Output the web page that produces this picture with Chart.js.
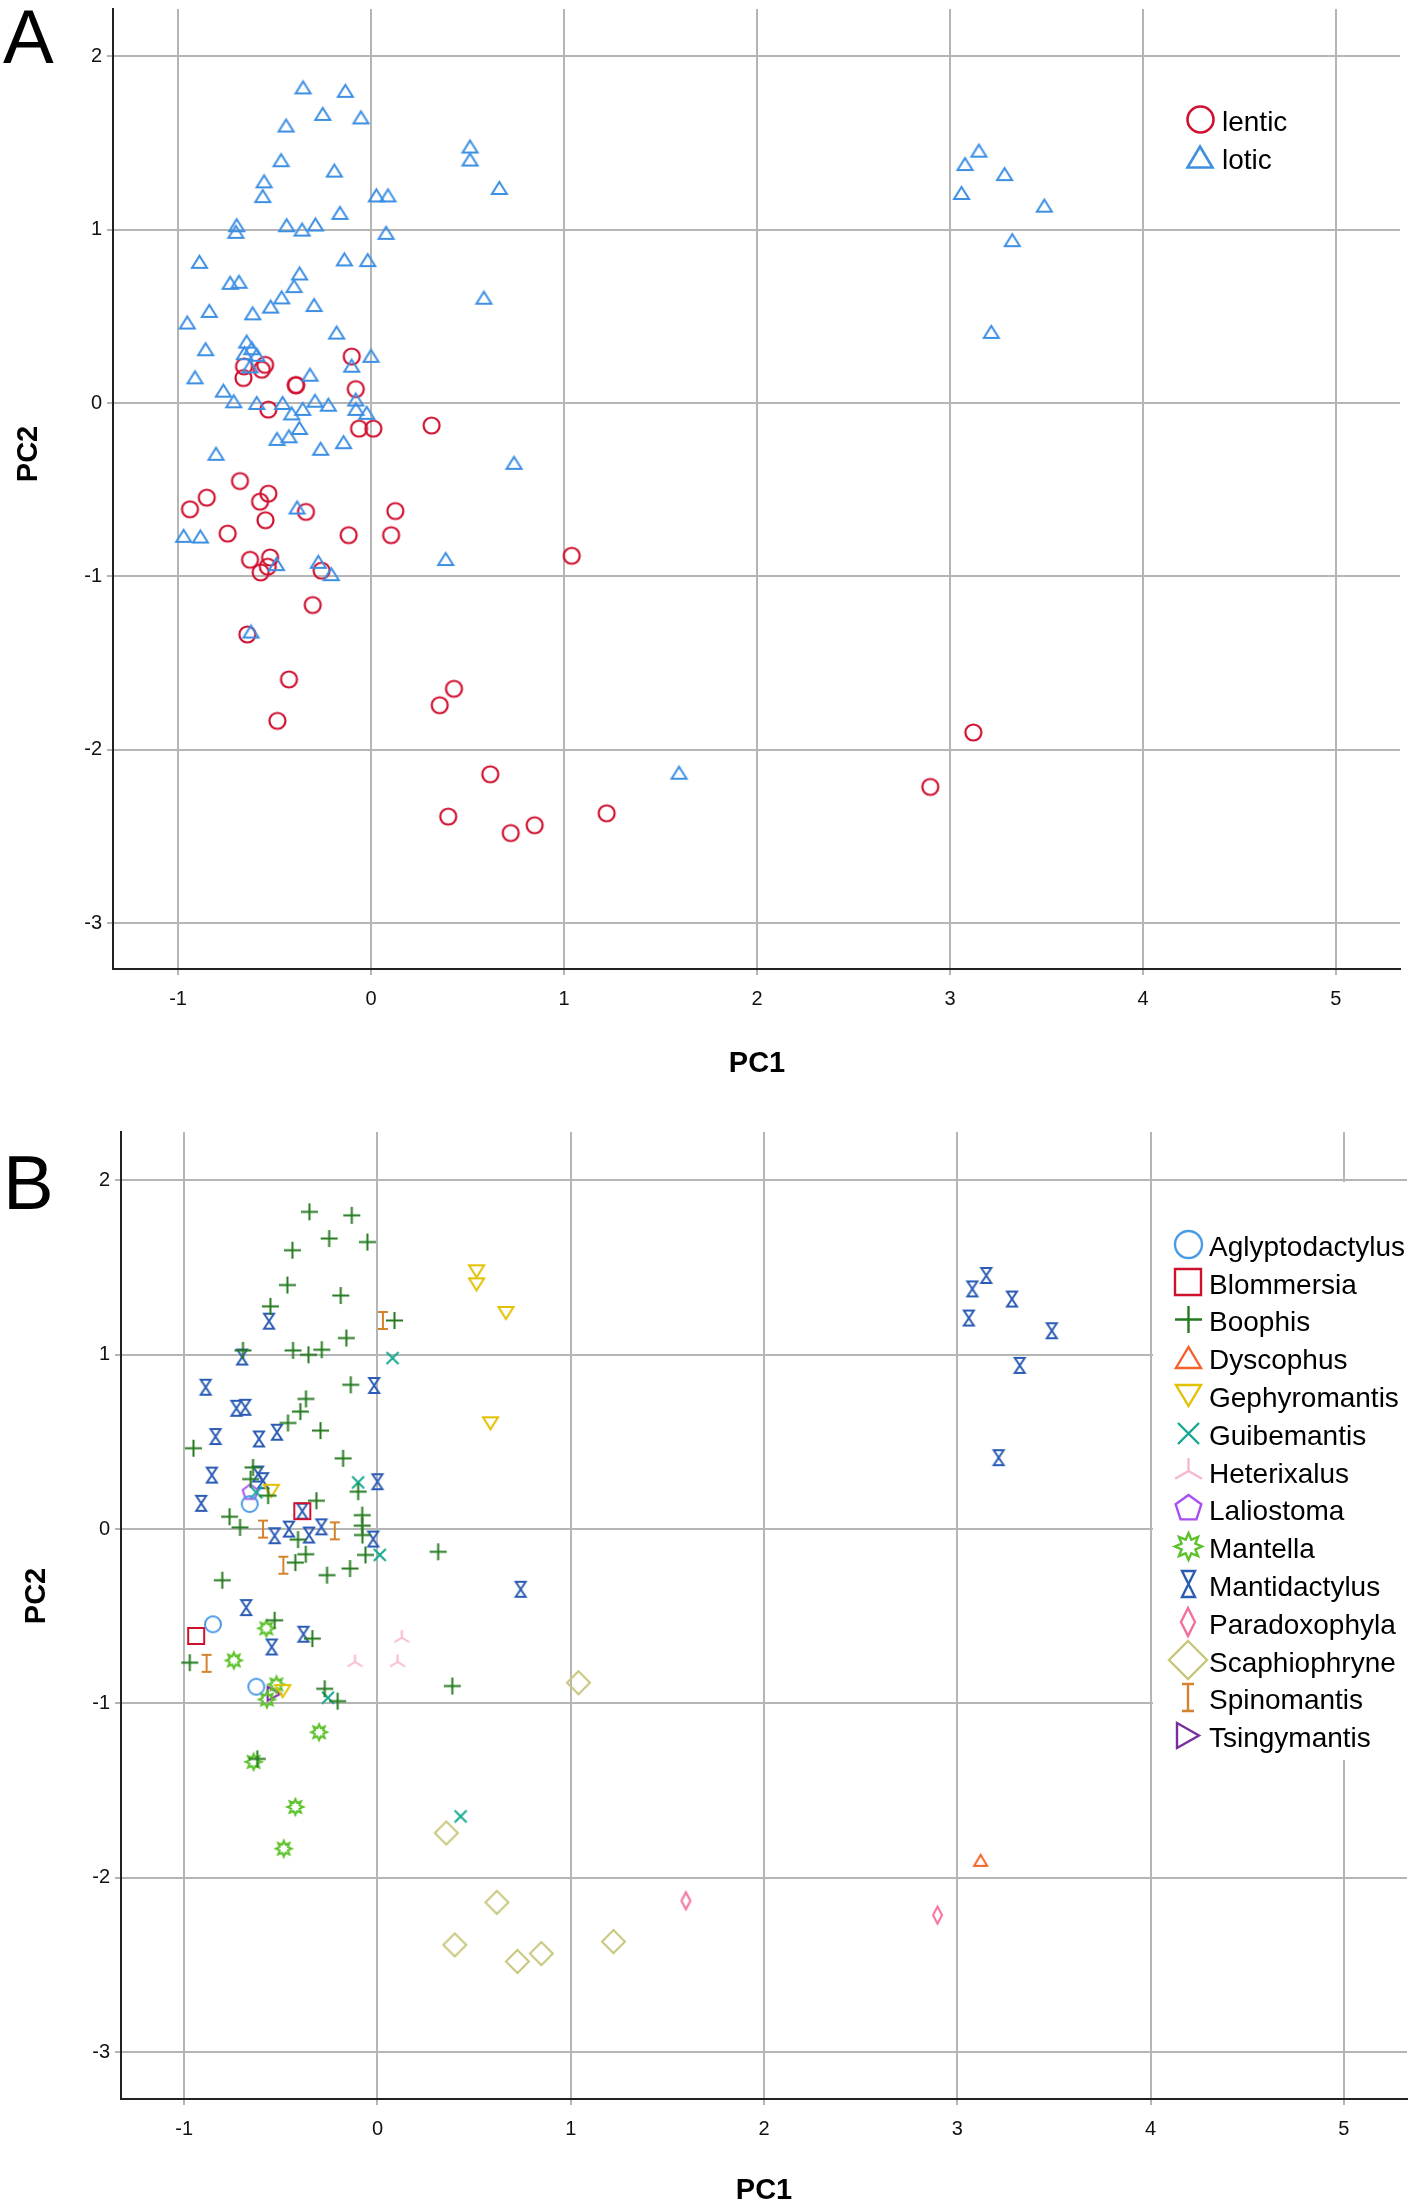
<!DOCTYPE html>
<html lang="en">
<head>
    <meta charset="UTF-8">
    <title>PCA scatter - habitat and genus</title>
    <style>
        body {
            margin: 0;
            background-color: #fff;
        }
        canvas {
            display: block;
        }
    </style>
</head>
<body>
    <canvas id="chartA" width="1416" height="1100"></canvas>
    <canvas id="chartB" width="1416" height="1109"></canvas>

    <script src="https://cdn.jsdelivr.net/npm/chart.js"></script>
    <script>
        const pc1Ticks = [-1, 0, 1, 2, 3, 4, 5];
        const pc2Ticks = [-3, -2, -1, 0, 1, 2];
        const habitats = ['lentic', 'lotic'];
        const genera = ['Aglyptodactylus', 'Blommersia', 'Boophis', 'Dyscophus', 'Gephyromantis',
            'Guibemantis', 'Heterixalus', 'Laliostoma', 'Mantella', 'Mantidactylus',
            'Paradoxophyla', 'Scaphiophryne', 'Spinomantis', 'Tsingymantis'];

        // each point: [PC1, PC2, habitat index (0 = lentic, 1 = lotic)]
        const aglyptodactylus = [[-0.661, 0.144, 0], [-0.851, -0.546, 0], [-0.627, -0.904, 0]];
        const blommersia = [[-0.389, 0.103, 0], [-0.938, -0.613, 0]];
        const boophis = [
            [-0.352, 1.820, 1], [-0.133, 1.800, 1], [-0.250, 1.667, 1], [-0.052, 1.647, 1], [-0.440, 1.600, 1],
            [-0.466, 1.400, 1], [-0.190, 1.340, 1], [-0.554, 1.278, 1], [0.088, 1.197, 1], [-0.161, 1.096, 1],
            [-0.696, 1.025, 1], [-0.437, 1.025, 1], [-0.357, 1.000, 1], [-0.288, 1.029, 1], [-0.138, 0.828, 1],
            [-0.370, 0.747, 1], [-0.399, 0.674, 1], [-0.463, 0.609, 1], [-0.295, 0.565, 1], [-0.952, 0.464, 1],
            [-0.178, 0.406, 1], [-0.644, 0.354, 1], [-0.656, 0.287, 1], [-0.100, 0.215, 1], [-0.316, 0.163, 1],
            [-0.765, 0.071, 1], [-0.711, 0.010, 1], [-0.411, -0.060, 1], [-0.079, 0.020, 1], [-0.078, -0.034, 1],
            [-0.371, -0.144, 1], [-0.425, -0.192, 1], [-0.261, -0.264, 1], [-0.142, -0.226, 1], [-0.803, -0.293, 1],
            [-0.971, -0.766, 1], [-0.273, -0.916, 1], [-0.206, -0.987, 1], [0.387, -0.900, 1], [-0.622, -1.318, 1],
            [-0.566, 0.192, 0], [-0.079, 0.080, 0], [-0.062, -0.148, 0], [0.314, -0.130, 0], [-0.532, -0.523, 0],
            [-0.337, -0.628, 0]
        ];
        const dyscophus = [[3.121, -1.900, 0]];
        const gephyromantis = [[0.513, 1.479, 1], [0.513, 1.404, 1], [0.665, 1.240, 1], [0.585, 0.607, 1],
            [-0.490, -0.929, 1], [-0.549, 0.220, 0]];
        const guibemantis = [[0.078, 0.981, 1], [-0.627, 0.211, 1], [-0.100, 0.268, 0], [0.012, -0.148, 0],
            [-0.256, -0.967, 0], [0.430, -1.648, 0]];
        const heterixalus = [[0.126, -0.623, 0], [-0.116, -0.762, 0], [0.104, -0.762, 0]];
        const laliostoma = [[-0.658, 0.211, 0]];
        const mantella = [[-0.575, -0.569, 0], [-0.743, -0.753, 0], [-0.523, -0.891, 0], [-0.572, -0.977, 0],
            [-0.302, -1.165, 0], [-0.641, -1.335, 0], [-0.425, -1.594, 0], [-0.485, -1.833, 0]];
        const mantidactylus = [
            [-0.561, 1.193, 1], [-0.700, 0.987, 1], [-0.889, 0.814, 1], [-0.017, 0.824, 1], [-0.730, 0.693, 1],
            [-0.684, 0.699, 1], [-0.520, 0.556, 1], [-0.838, 0.531, 1], [-0.613, 0.517, 1], [-0.618, 0.316, 1],
            [-0.857, 0.310, 1], [-0.592, 0.278, 1], [0.000, 0.272, 1], [-0.912, 0.148, 1], [-0.458, 0.000, 1],
            [-0.354, -0.034, 1], [-0.290, 0.013, 1], [-0.022, -0.057, 1], [0.741, -0.345, 1], [-0.383, -0.603, 1],
            [3.150, 1.455, 1], [3.078, 1.378, 1], [3.283, 1.320, 1], [3.060, 1.211, 1], [3.489, 1.138, 1],
            [3.323, 0.939, 1], [3.214, 0.410, 1],
            [-0.389, 0.103, 0], [-0.532, -0.038, 0], [-0.679, -0.450, 0], [-0.547, -0.676, 0]
        ];
        const paradoxophyla = [[1.596, -2.132, 1], [2.898, -2.214, 0]];
        const scaphiophryne = [[1.040, -0.881, 0], [0.356, -1.743, 0], [1.221, -2.366, 0], [0.618, -2.141, 0],
            [0.400, -2.385, 0], [0.724, -2.480, 0], [0.848, -2.435, 0]];
        const spinomantis = [[0.028, 1.197, 1], [-0.592, 0.000, 1], [-0.221, -0.010, 1], [-0.487, -0.207, 1],
            [-0.884, -0.770, 1]];
        const tsingymantis = [[-0.535, -0.944, 0]];

        const generaPoints = [aglyptodactylus, blommersia, boophis, dyscophus, gephyromantis, guibemantis,
            heterixalus, laliostoma, mantella, mantidactylus, paradoxophyla, scaphiophryne, spinomantis, tsingymantis];

        // draws one marker symbol into a small canvas, used as pointStyle
        function marker(shape, color, w, h, lw) {
            const c = document.createElement('canvas');
            c.width = Math.ceil(w + lw * 4 + 4);
            c.height = Math.ceil(h + lw * 4 + 4);
            const g = c.getContext('2d');
            g.translate(c.width / 2, c.height / 2);
            g.strokeStyle = color;
            g.lineWidth = lw;
            g.lineJoin = 'miter';
            const a = w / 2, b = h / 2;
            g.beginPath();
            if (shape === 'circle') {
                g.arc(0, 0, a, 0, Math.PI * 2);
            } else if (shape === 'square') {
                g.rect(-a, -b, w, h);
            } else if (shape === 'plus') {
                g.moveTo(-a, 0); g.lineTo(a, 0); g.moveTo(0, -b); g.lineTo(0, b);
            } else if (shape === 'cross') {
                g.moveTo(-a, -b); g.lineTo(a, b); g.moveTo(a, -b); g.lineTo(-a, b);
            } else if (shape === 'triUp') {
                g.moveTo(0, -b); g.lineTo(a, b); g.lineTo(-a, b); g.closePath();
            } else if (shape === 'triDown') {
                g.moveTo(0, b); g.lineTo(a, -b); g.lineTo(-a, -b); g.closePath();
            } else if (shape === 'triRight') {
                g.moveTo(a, 0); g.lineTo(-a, -b); g.lineTo(-a, b); g.closePath();
            } else if (shape === 'diamond') {
                g.moveTo(0, -b); g.lineTo(a, 0); g.lineTo(0, b); g.lineTo(-a, 0); g.closePath();
            } else if (shape === 'hourglass') {
                g.moveTo(-a, -b); g.lineTo(a, -b); g.lineTo(-a, b); g.lineTo(a, b); g.closePath();
            } else if (shape === 'ibeam') {
                g.moveTo(-a, -b); g.lineTo(a, -b); g.moveTo(0, -b); g.lineTo(0, b);
                g.moveTo(-a, b); g.lineTo(a, b);
            } else if (shape === 'tristar') {
                g.moveTo(0, 0); g.lineTo(0, -b);
                g.moveTo(0, 0); g.lineTo(-a, b * 0.6);
                g.moveTo(0, 0); g.lineTo(a, b * 0.6);
            } else if (shape === 'pentagon') {
                for (let i = 0; i < 5; i++) {
                    const t = -Math.PI / 2 + i * 2 * Math.PI / 5;
                    g.lineTo(a * Math.cos(t), a * Math.sin(t));
                }
                g.closePath();
            } else if (shape === 'star') {
                for (let i = 0; i < 16; i++) {
                    const t = -Math.PI / 2 + i * Math.PI / 8;
                    const r = i % 2 ? a * 0.55 : a;
                    g.lineTo(r * Math.cos(t), r * Math.sin(t));
                }
                g.closePath();
            }
            g.stroke();
            return c;
        }

        const habitatColors = ['#d0102f', '#3d8fe3'];
        const habitatMarks = [
            marker('circle', habitatColors[0], 16, 16, 2.2),
            marker('triUp', habitatColors[1], 15, 12, 2)
        ];
        const habitatLegendMarks = [
            marker('circle', habitatColors[0], 26, 26, 2.6),
            marker('triUp', habitatColors[1], 25, 21, 2.6)
        ];

        // shape, colour, plot size (w, h), legend size (w, h)
        const genusStyles = [
            ['circle', '#4a9be6', 16, 16, 27, 27],
            ['square', '#d0102f', 16, 16, 26, 26],
            ['plus', '#257a1f', 17, 17, 27, 27],
            ['triUp', '#f4622b', 13, 11, 25, 21],
            ['triDown', '#e3c000', 15, 12, 25, 21],
            ['cross', '#14a890', 12, 12, 21, 21],
            ['tristar', '#f7b6d2', 15, 15, 27, 26],
            ['pentagon', '#a84ff0', 16, 16, 27, 27],
            ['star', '#5cc12a', 16, 16, 27, 27],
            ['hourglass', '#2b5cb5', 10, 15, 13, 26],
            ['diamond', '#f2709f', 9, 17, 14, 28],
            ['diamond', '#c8c67c', 23, 23, 38, 38],
            ['ibeam', '#d4822e', 10, 17, 12, 27],
            ['triRight', '#7a2e9c', 13, 14, 22, 25]
        ];

        const fontFamily = '"Liberation Sans", Arial, sans-serif';

        function scaleConfig(range, yWidth, xHeight) {
            const font = { family: fontFamily, size: 20 };
            const grid = { color: '#b5b5b5', lineWidth: 2, tickLength: 6 };
            const border = { color: '#222', width: 2 };
            return {
                x: {
                    type: 'linear',
                    min: range.x[0],
                    max: range.x[1],
                    grid: grid,
                    border: border,
                    ticks: { font: font, color: '#111', padding: 12, maxRotation: 0 },
                    afterBuildTicks: s => { s.ticks = pc1Ticks.map(v => ({ value: v })); },
                    afterFit: s => { s.height = xHeight; s.paddingLeft = 0; s.paddingRight = 0; }
                },
                y: {
                    type: 'linear',
                    min: range.y[0],
                    max: range.y[1],
                    grid: grid,
                    border: border,
                    ticks: { font: font, color: '#111', padding: 5 },
                    afterBuildTicks: s => { s.ticks = pc2Ticks.map(v => ({ value: v })); },
                    afterFit: s => { s.width = yWidth; s.paddingTop = 0; s.paddingBottom = 0; }
                }
            };
        }

        // panel letter, axis titles, legend inside the plot
        function decor(cfg) {
            return {
                id: 'decor',
                beforeDatasetsDraw(chart) {
                    if (!cfg.blank) return;
                    const g = chart.ctx;
                    g.save();
                    g.fillStyle = '#fff';
                    g.fillRect(cfg.blank[0], cfg.blank[1], cfg.blank[2], cfg.blank[3]);
                    g.restore();
                },
                afterDraw(chart) {
                    const g = chart.ctx;
                    g.save();
                    g.fillStyle = '#000';
                    g.textBaseline = 'alphabetic';
                    g.font = '76px ' + fontFamily;
                    g.fillText(cfg.letter, cfg.letterPos[0], cfg.letterPos[1]);

                    g.font = 'bold 29px ' + fontFamily;
                    g.textAlign = 'center';
                    g.textBaseline = 'middle';
                    g.fillText('PC1', cfg.xTitle[0], cfg.xTitle[1]);
                    g.save();
                    g.translate(cfg.yTitle[0], cfg.yTitle[1]);
                    g.rotate(-Math.PI / 2);
                    g.fillText('PC2', 0, 0);
                    g.restore();

                    g.textAlign = 'left';
                    g.font = '28px ' + fontFamily;
                    cfg.legend.labels.forEach((label, i) => {
                        const y = cfg.legend.y + i * cfg.legend.gap;
                        const icon = cfg.legend.icons[i];
                        g.drawImage(icon, Math.round(cfg.legend.x - icon.width / 2), Math.round(y - icon.height / 2));
                        g.fillText(label, cfg.legend.textX, y + 4);
                    });
                    g.restore();
                }
            };
        }

        const allPoints = generaPoints.flat();

        // Panel A: habitat
        new Chart(document.getElementById('chartA').getContext('2d'), {
            type: 'scatter',
            data: {
                datasets: habitats.map((h, hi) => ({
                    label: h,
                    data: allPoints.filter(p => p[2] === hi).map(p => ({ x: p[0], y: p[1] })),
                    pointStyle: habitatMarks[hi],
                    pointRadius: 8,
                    order: hi === 1 ? 0 : 1
                }))
            },
            options: {
                responsive: false,
                animation: false,
                events: [],
                layout: { padding: { top: 4, right: 16, left: 0, bottom: 0 } },
                plugins: { legend: { display: false }, tooltip: { enabled: false } },
                scales: scaleConfig({ x: [-1.337, 5.332], y: [-3.264, 2.272] }, 113, 131)
            },
            plugins: [decor({
                letter: 'A',
                letterPos: [3, 63],
                xTitle: [757, 1064],
                yTitle: [29, 454],
                legend: { x: 1200, textX: 1222, y: 119, gap: 38, labels: habitats, icons: habitatLegendMarks }
            })]
        });

        // Panel B: genus
        new Chart(document.getElementById('chartB').getContext('2d'), {
            type: 'scatter',
            data: {
                datasets: genera.map((name, gi) => {
                    const st = genusStyles[gi];
                    return {
                        label: name,
                        data: generaPoints[gi].map(p => ({ x: p[0], y: p[1] })),
                        pointStyle: marker(st[0], st[1], st[2], st[3], 2),
                        pointRadius: 8
                    };
                })
            },
            options: {
                responsive: false,
                animation: false,
                events: [],
                layout: { padding: { top: 32, right: 8, left: 0, bottom: 0 } },
                plugins: { legend: { display: false }, tooltip: { enabled: false } },
                scales: scaleConfig({ x: [-1.327, 5.327], y: [-3.269, 2.278] }, 121, 110)
            },
            plugins: [decor({
                letter: 'B',
                letterPos: [3, 109],
                xTitle: [764, 1091],
                yTitle: [37, 496],
                blank: [1153, 82, 263, 578],
                legend: {
                    x: 1188, textX: 1209, y: 144, gap: 37.8, labels: genera,
                    icons: genusStyles.map(st => marker(st[0], st[1], st[4], st[5], 2.4))
                }
            })]
        });
    </script>
</body>
</html>
